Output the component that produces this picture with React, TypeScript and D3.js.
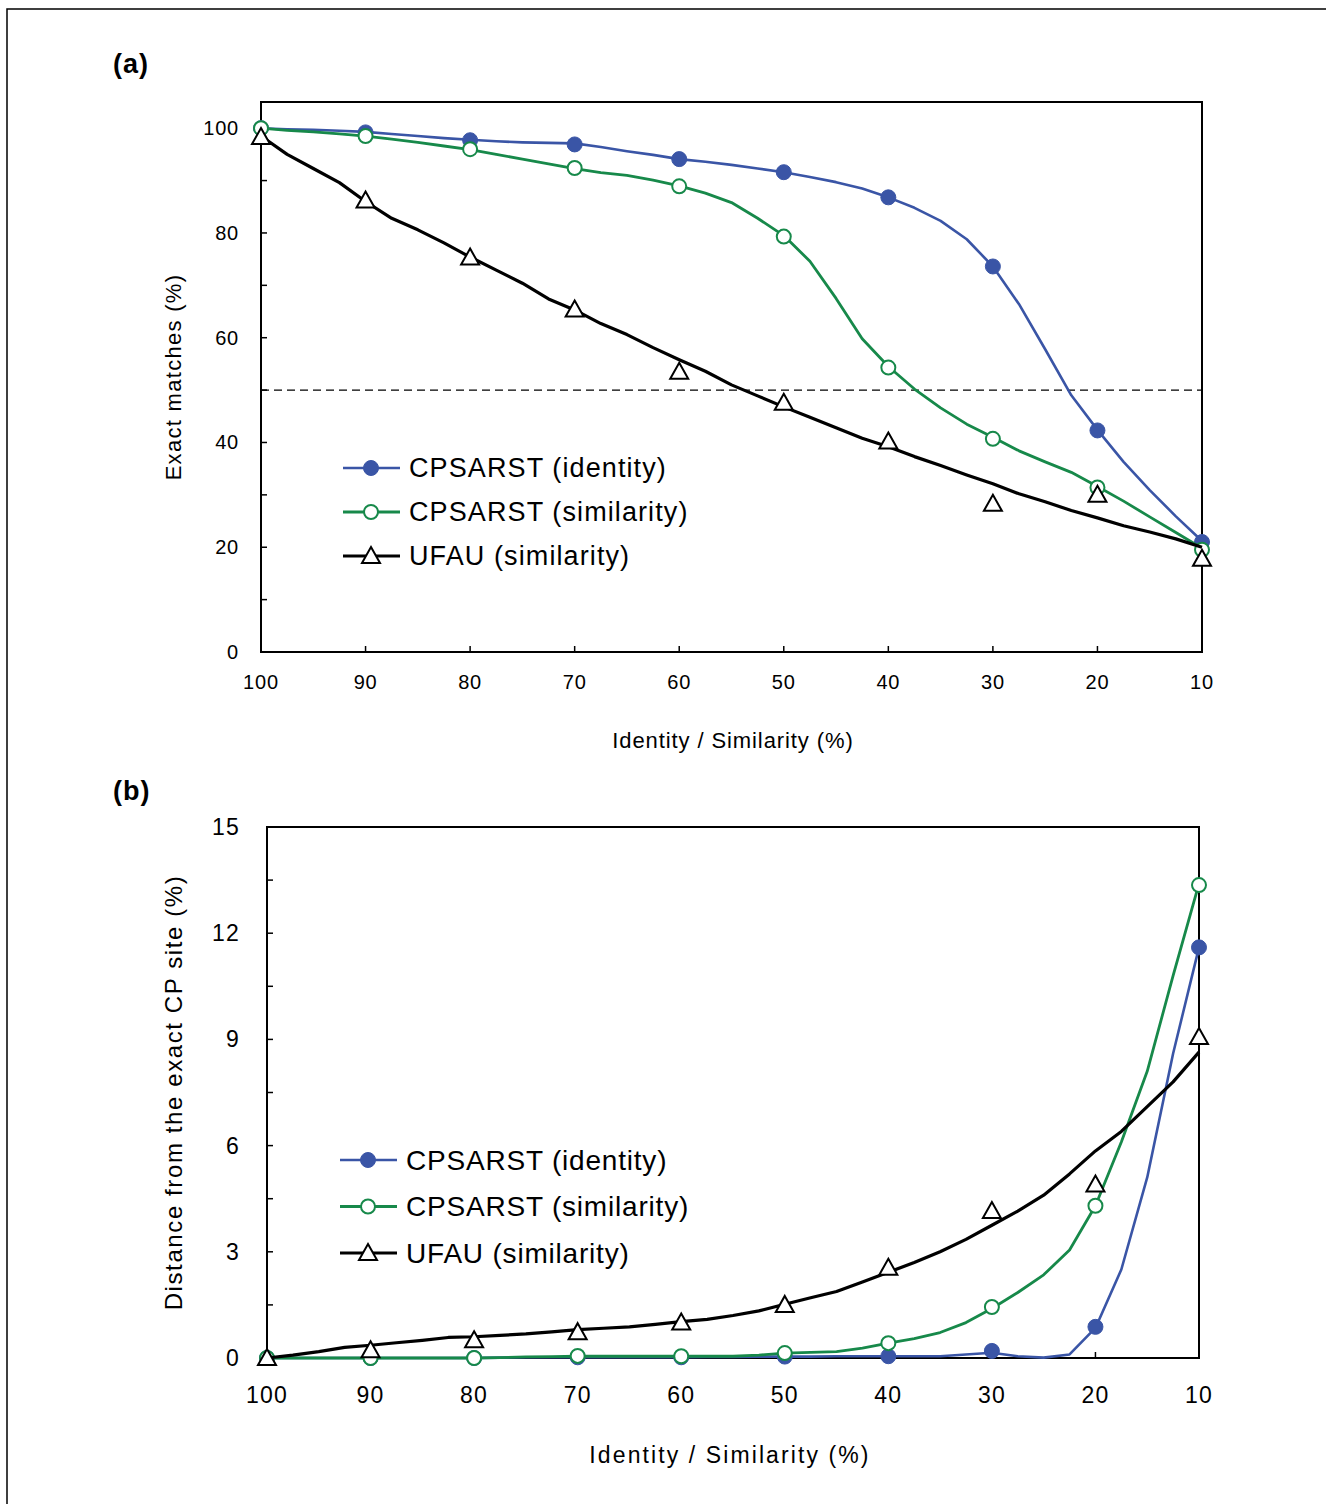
import React from "react";
import * as d3 from "d3";

// ---------- Data ----------
const markerX = [100, 90, 80, 70, 60, 50, 40, 30, 20, 10];
const xTicks = [100, 90, 80, 70, 60, 50, 40, 30, 20, 10];

// Panel (a): exact matches (%)
const aIdentityMarkers = [100, 99.2, 97.7, 96.9, 94.1, 91.6, 86.8, 73.6, 42.3, 21.0];
const aSimilarityMarkers = [100, 98.5, 96.0, 92.4, 88.9, 79.3, 54.3, 40.7, 31.4, 19.5];
const aUfauMarkers = [98.3, 86.2, 75.3, 65.4, 53.5, 47.6, 40.2, 28.3, 30.0, 17.8];

const lineX = [100, 97.5, 95, 92.5, 90, 87.5, 85, 82.5, 80, 77.5, 75, 72.5, 70, 67.5, 65, 62.5, 60, 57.5, 55, 52.5, 50, 47.5, 45, 42.5, 40, 37.5, 35, 32.5, 30, 27.5, 25, 22.5, 20, 17.5, 15, 12.5, 10];
const aIdentityLine = [100, 99.8, 99.7, 99.5, 99.3, 98.9, 98.5, 98.1, 97.8, 97.5, 97.3, 97.2, 97.1, 96.4, 95.6, 94.9, 94.1, 93.6, 93.0, 92.3, 91.6, 90.7, 89.7, 88.5, 86.8, 84.8, 82.3, 78.8, 73.6, 66.4, 57.8, 49.0, 42.4, 36.3, 30.9, 25.9, 21.2];
const aSimilarityLine = [100, 99.6, 99.3, 98.9, 98.5, 97.9, 97.3, 96.6, 95.9, 95.0, 94.1, 93.2, 92.3, 91.5, 91.0, 90.1, 89.0, 87.6, 85.8, 82.8, 79.5, 74.6, 67.5, 59.8, 54.5, 50.2, 46.6, 43.5, 41.0, 38.4, 36.3, 34.3, 31.6, 28.8, 25.8, 22.8, 19.8];
const aUfauLine = [98.5, 95.0, 92.3, 89.6, 86.0, 82.8, 80.6, 78.1, 75.4, 72.9, 70.4, 67.4, 65.3, 62.7, 60.6, 58.1, 55.8, 53.6, 51.0, 48.9, 46.8, 44.8, 42.8, 40.8, 39.2, 37.3, 35.6, 33.8, 32.1, 30.2, 28.7, 27.0, 25.6, 24.1, 22.9, 21.6, 20.0];

// Panel (b): distance from exact CP site (%)
const bIdentityMarkers = [0, 0, 0, 0.02, 0.02, 0.04, 0.05, 0.2, 0.88, 11.6];
const bSimilarityMarkers = [0, 0, 0, 0.06, 0.05, 0.14, 0.42, 1.44, 4.3, 13.36];
const bUfauMarkers = [0, 0.22, 0.5, 0.73, 1.0, 1.5, 2.55, 4.15, 4.9, 9.07];

const bIdentityLine = [0, 0, 0, 0, 0, 0, 0, 0, 0, 0.01, 0.02, 0.02, 0.02, 0.02, 0.02, 0.02, 0.02, 0.03, 0.03, 0.04, 0.04, 0.04, 0.05, 0.05, 0.05, 0.05, 0.05, 0.1, 0.15, 0.05, 0.01, 0.1, 0.85, 2.5, 5.1, 8.6, 11.6];
const bSimilarityLine = [0, 0, 0, 0, 0, 0, 0, 0, 0, 0.01, 0.03, 0.04, 0.05, 0.05, 0.05, 0.05, 0.05, 0.05, 0.05, 0.08, 0.14, 0.16, 0.18, 0.28, 0.42, 0.55, 0.72, 1.0, 1.4, 1.85, 2.35, 3.05, 4.3, 6.1, 8.1, 10.8, 13.4];
const bUfauLine = [0, 0.08, 0.18, 0.3, 0.36, 0.43, 0.5, 0.58, 0.6, 0.64, 0.68, 0.74, 0.8, 0.84, 0.88, 0.95, 1.03, 1.09, 1.2, 1.33, 1.52, 1.7, 1.88, 2.15, 2.42, 2.7, 3.0, 3.35, 3.75, 4.15, 4.6, 5.2, 5.85, 6.4, 7.1, 7.8, 8.64];

const aYTicks = [0, 20, 40, 60, 80, 100];
const aYMinor = [0, 10, 20, 30, 40, 50, 60, 70, 80, 90, 100];
const bYTicks = [0, 3, 6, 9, 12, 15];
const bYMinor = [0, 1.5, 3, 4.5, 6, 7.5, 9, 10.5, 12, 13.5, 15];

const seriesNames = ["CPSARST (identity)", "CPSARST (similarity)", "UFAU (similarity)"];
const BLUE = "#3a55a6";
const GREEN = "#17894a";
const BLACK = "#000000";
const FONT = "'Liberation Sans', Arial, Helvetica, sans-serif";

type Kind = "filled" | "open" | "tri";

function Marker({ x, y, kind, color, s = 1 }: { x: number; y: number; kind: Kind; color: string; s?: number }) {
  if (kind === "filled") return <circle cx={x} cy={y} r={7.5 * s} fill={color} stroke={color} strokeWidth={1} />;
  if (kind === "open") return <circle cx={x} cy={y} r={7 * s} fill="#fff" stroke={color} strokeWidth={2} />;
  const h = 8 * s;
  return (
    <path
      d={`M${x},${y - h - 1} L${x + h + 1},${y + h - 1} L${x - h - 1},${y + h - 1} Z`}
      fill="#fff"
      stroke={BLACK}
      strokeWidth={2}
      strokeLinejoin="miter"
    />
  );
}

interface PanelProps {
  left: number; right: number; top: number; bottom: number;
  yMax: number;
  yTicks: number[]; yMinor: number[];
  lines: number[][]; markers: number[][];
  tickFont: number; tickSpacing: number; tickLabelDy: number; yLabelX: number;
  yTitle: string; yTitleX: number; yTitleFont: number; yTitleSpacing: number;
  xTitleY: number; xTitleFont: number; xTitleSpacing: number; xTitleCx: number;
  legendX: number; legendY: number; legendGap: number; legendFont: number; legendSpacing: number;
  dashed50?: boolean;
}

function Panel(p: PanelProps) {
  const x = d3.scaleLinear().domain([100, 10]).range([p.left, p.right]);
  const y = d3.scaleLinear().domain([0, p.yMax]).range([p.bottom, p.top]);
  const line = d3.line<number>().x((_, i) => x(lineX[i])).y((v) => y(v));
  const colors = [BLUE, GREEN, BLACK];
  const kinds: Kind[] = ["filled", "open", "tri"];
  const widths = [2.6, 2.8, 3.2];
  return (
    <g>
      <rect x={p.left} y={p.top} width={p.right - p.left} height={p.bottom - p.top} fill="none" stroke="#000" strokeWidth={2} />
      {p.yMinor.map((t) => (
        <line key={"ym" + t} x1={p.left} x2={p.left + 6} y1={y(t)} y2={y(t)} stroke="#000" strokeWidth={1.5} />
      ))}
      {p.yTicks.map((t) => (
        <text key={"yt" + t} x={p.yLabelX} y={y(t)} dy="0.35em" textAnchor="end" fontSize={p.tickFont} letterSpacing={p.tickSpacing} fontFamily={FONT}>
          {t}
        </text>
      ))}
      {xTicks.map((t) => (
        <g key={"xt" + t}>
          <line x1={x(t)} x2={x(t)} y1={p.bottom} y2={p.bottom - 6} stroke="#000" strokeWidth={1.5} />
          <text x={x(t)} y={p.bottom + p.tickLabelDy} dy="0.35em" textAnchor="middle" fontSize={p.tickFont} letterSpacing={p.tickSpacing} fontFamily={FONT}>
            {t}
          </text>
        </g>
      ))}
      {p.dashed50 && (
        <line x1={p.left} x2={p.right} y1={y(50)} y2={y(50)} stroke="#000" strokeWidth={1.4} strokeDasharray="8,5" />
      )}
      {p.lines.map((ln, si) => (
        <g key={"s" + si}>
          <path d={line(ln) || ""} fill="none" stroke={colors[si]} strokeWidth={widths[si]} strokeLinejoin="round" />
          {p.markers[si].map((v, i) => (
            <Marker key={i} x={x(markerX[i])} y={y(v)} kind={kinds[si]} color={colors[si]} />
          ))}
        </g>
      ))}
      {seriesNames.map((n, i) => {
        const ly = p.legendY + i * p.legendGap;
        return (
          <g key={"lg" + i}>
            <line x1={p.legendX} x2={p.legendX + 57} y1={ly} y2={ly} stroke={colors[i]} strokeWidth={widths[i]} />
            <Marker x={p.legendX + 28} y={ly} kind={kinds[i]} color={colors[i]} />
            <text x={p.legendX + 66} y={ly} dy="0.35em" fontSize={p.legendFont} letterSpacing={p.legendSpacing} fontFamily={FONT}>
              {n}
            </text>
          </g>
        );
      })}
      <text
        transform={`translate(${p.yTitleX},${(p.top + p.bottom) / 2}) rotate(-90)`}
        textAnchor="middle"
        fontSize={p.yTitleFont}
        letterSpacing={p.yTitleSpacing}
        fontFamily={FONT}
      >
        {p.yTitle}
      </text>
      <text x={p.xTitleCx} y={p.xTitleY} dy="0.35em" textAnchor="middle" fontSize={p.xTitleFont} letterSpacing={p.xTitleSpacing} fontFamily={FONT}>
        Identity / Similarity (%)
      </text>
    </g>
  );
}

export default function App() {
  return (
    <svg width={1326} height={1504} style={{ position: "absolute", left: 0, top: 0, background: "#fff" }}>
      <rect x={0} y={0} width={1326} height={1504} fill="#fff" />
      <rect x={7} y={9} width={1400} height={1600} fill="none" stroke="#000" strokeWidth={1.5} />
      <text x={113} y={73} fontSize={27} letterSpacing={1} fontWeight="bold" fontFamily={FONT}>(a)</text>
      <text x={113} y={800} fontSize={27} letterSpacing={1} fontWeight="bold" fontFamily={FONT}>(b)</text>
      <Panel
        left={261} right={1202} top={102} bottom={652}
        yMax={105}
        yTicks={aYTicks} yMinor={aYMinor}
        lines={[aIdentityLine, aSimilarityLine, aUfauLine]}
        markers={[aIdentityMarkers, aSimilarityMarkers, aUfauMarkers]}
        tickFont={20} tickSpacing={0.8} tickLabelDy={30} yLabelX={239}
        yTitle="Exact matches (%)" yTitleX={181} yTitleFont={22} yTitleSpacing={1.3}
        xTitleY={740} xTitleFont={22} xTitleSpacing={0.9} xTitleCx={733}
        legendX={343} legendY={468} legendGap={44} legendFont={27} legendSpacing={1.1}
        dashed50
      />
      <Panel
        left={267} right={1199} top={827} bottom={1358}
        yMax={15}
        yTicks={bYTicks} yMinor={bYMinor}
        lines={[bIdentityLine, bSimilarityLine, bUfauLine]}
        markers={[bIdentityMarkers, bSimilarityMarkers, bUfauMarkers]}
        tickFont={23} tickSpacing={1.2} tickLabelDy={37} yLabelX={240}
        yTitle="Distance from the exact CP site (%)" yTitleX={182} yTitleFont={24} yTitleSpacing={1.6}
        xTitleY={1455} xTitleFont={23} xTitleSpacing={2.1} xTitleCx={730}
        legendX={340} legendY={1160} legendGap={46.5} legendFont={28} legendSpacing={0.8}
      />
    </svg>
  );
}
